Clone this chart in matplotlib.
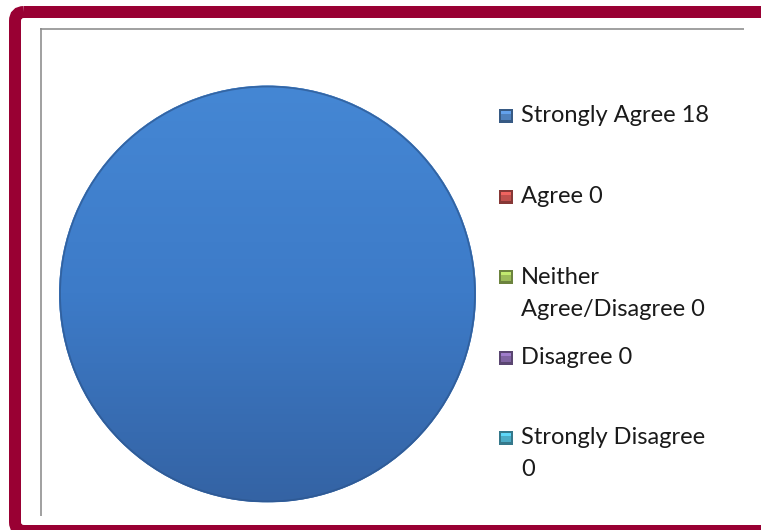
import textwrap
import numpy as np
import matplotlib
matplotlib.use("Agg")
import matplotlib.pyplot as plt
from matplotlib.colors import LinearSegmentedColormap, to_rgb
from matplotlib.patches import FancyBboxPatch, Rectangle

# survey answers
categories = ["Strongly Agree", "Agree", "Neither Agree/Disagree", "Disagree", "Strongly Disagree"]
counts = [18, 0, 0, 0, 0]
colors = ["#4f81bd", "#c0504d", "#9bbb59", "#8064a2", "#4bacc6"]

W, H = 761, 530
fig = plt.figure(figsize=(W / 100, H / 100), dpi=100)
plt.rcParams['font.family'] = ['Lato', 'DejaVu Sans']

# background layer in pixel coords (y down)
bg = fig.add_axes([0, 0, 1, 1])
bg.set_xlim(0, W)
bg.set_ylim(H, 0)
bg.axis("off")

px = 72 / 100  # points per pixel
frame = FancyBboxPatch((15, 12), 800, 519, boxstyle="round,pad=0,rounding_size=9",
                       fill=False, edgecolor="#990033", lw=12 * px)
bg.add_patch(frame)
bg.plot([40, 744], [28.5, 28.5], color="#8c8c8c", lw=1.6 * px, solid_capstyle="butt")
bg.plot([40.5, 40.5], [28, 516], color="#8c8c8c", lw=1.6 * px, solid_capstyle="butt")

# pie
cx, cy, r = 267.5, 294, 209.5
ax = fig.add_axes([(cx - r) / W, (H - cy - r) / H, 2 * r / W, 2 * r / H])
wedges, _ = ax.pie(counts, colors=colors, startangle=90, counterclock=False,
                   wedgeprops=dict(linewidth=0))
cmap = LinearSegmentedColormap.from_list("blu", ["#3463a4", "#3d7bc8", "#4587d4"])
grad = np.linspace(0, 1, 256).reshape(-1, 1)
im = ax.imshow(grad, extent=[-1, 1, -1, 1], origin="lower", cmap=cmap, aspect="auto", zorder=2)
im.set_clip_path(wedges[0])
rim = plt.Circle((0, 0), 0.995, fill=False, edgecolor="#2d578f", lw=1.2, zorder=3, alpha=0.7)
ax.add_patch(rim)
ax.set_xlim(-1.005, 1.005)
ax.set_ylim(-1.005, 1.005)
ax.axis("off")


def shade(c, f):
    return tuple(min(1, v * f) for v in to_rgb(c))


# legend, drawn by hand so the marker sits on the first line
y0, step, line_h = 116, 80.5, 32
for i, (cat, n, c) in enumerate(zip(categories, counts, colors)):
    y = y0 + i * step
    bg.add_patch(Rectangle((498.5, y - 7), 14, 14, facecolor=shade(c, 0.7), edgecolor="none"))
    bg.add_patch(Rectangle((500.5, y - 5), 10, 9, facecolor=c, edgecolor="none"))
    bg.add_patch(Rectangle((500.5, y - 5), 10, 3, facecolor=shade(c, 1.25), edgecolor="none"))
    lines = textwrap.wrap(f"{cat} {n}", width=17)
    for j, ln in enumerate(lines):
        bg.text(521, y + j * line_h, ln, fontsize=17, color="#1a1a1a", va="center", ha="left")

fig.savefig("out.png", dpi=100)
